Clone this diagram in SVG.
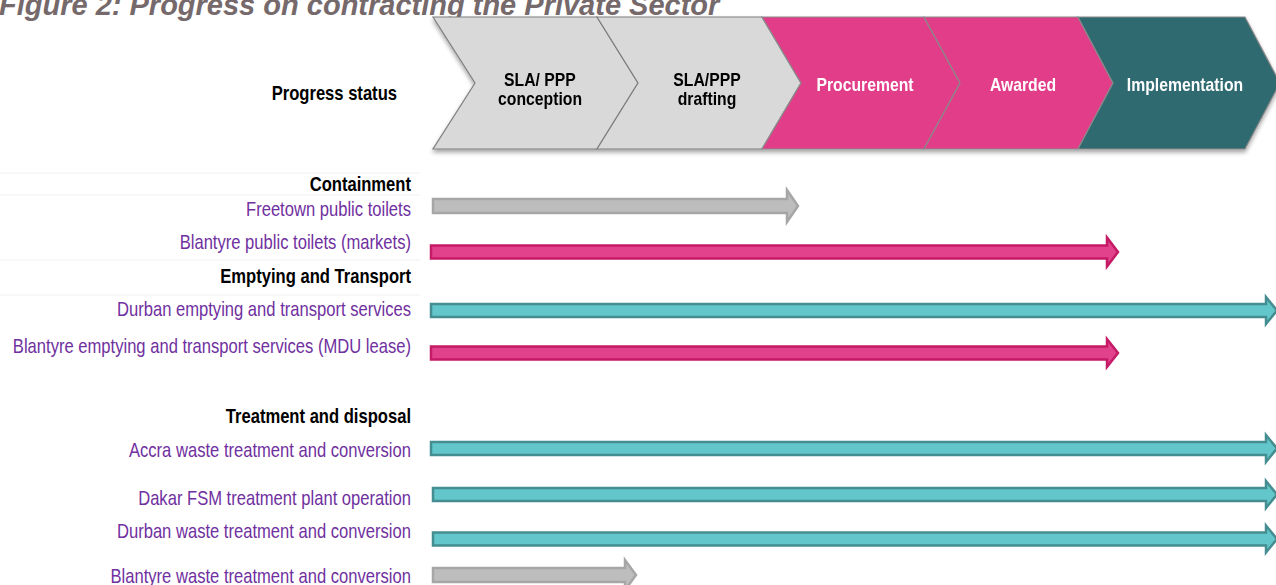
<svg xmlns="http://www.w3.org/2000/svg" width="1276" height="585" viewBox="0 0 1276 585">
  <style>
    .title { font-family: "Liberation Sans", Arial, sans-serif; font-weight: bold; font-style: italic; font-size: 29px; fill: #76696b; }
    .narrow { font-family: "Liberation Sans", Arial, sans-serif; }
    .head { font-weight: bold; font-size: 20px; fill: #000; text-anchor: end; }
    .item { font-size: 20px; fill: #7030a0; text-anchor: end; }
    .stage { font-weight: bold; font-size: 19px; text-anchor: middle; }
    .stage-dark { fill: #000; }
    .stage-light { fill: #fff; }
    .chev-grey { fill: #d9d9d9; stroke: #7f7f7f; stroke-width: 1.2; }
    .chev-pink { fill: #e23d89; stroke: #8a8a8a; stroke-width: 1.2; }
    .chev-teal { fill: #2e6a70; stroke: #8a8a8a; stroke-width: 1.2; }
    .arr-grey { fill: #bdbdbd; stroke: #a6a6a6; stroke-width: 2.5; stroke-linejoin: miter; }
    .arr-pink { fill: #e2428c; stroke: #c51a66; stroke-width: 2.5; stroke-linejoin: miter; }
    .arr-teal { fill: #62c6ca; stroke: #448d90; stroke-width: 2.5; stroke-linejoin: miter; }
    .rule { stroke: #f1f1f1; stroke-width: 1; }
  </style>
  <defs>
    <filter id="shadow" x="-5%" y="-10%" width="110%" height="130%">
      <feDropShadow dx="0" dy="3" stdDeviation="2" flood-color="#000" flood-opacity="0.35"/>
    </filter>
  </defs>

  <rect width="1276" height="585" fill="#fff"/>

  <text class="title" x="-1" y="15">Figure 2: Progress on contracting the Private Sector</text>

  <!-- faint table rules behind the row labels -->
  <g id="rules">
    <line class="rule" x1="0" y1="173" x2="420" y2="173"/>
    <line class="rule" x1="0" y1="195" x2="420" y2="195"/>
    <line class="rule" x1="0" y1="260" x2="420" y2="260"/>
    <line class="rule" x1="0" y1="295" x2="420" y2="295"/>
  </g>

  <!-- narrow type: each label is horizontally condensed about its anchor point -->
  <g id="progress-status">
    <text class="narrow head" transform="translate(397 100) scale(0.83 1)">Progress status</text>
  </g>

  <!-- stage chevrons -->
  <g id="stages" filter="url(#shadow)">
    <g id="stage-conception">
      <polygon class="chev-grey" points="433,17 597,17 638,83 597,149 433,149 475,83"/>
      <text class="narrow stage stage-dark" transform="translate(540 85.5) scale(0.83 1)">SLA/ PPP</text>
      <text class="narrow stage stage-dark" transform="translate(540 104.5) scale(0.83 1)">conception</text>
    </g>
    <g id="stage-drafting">
      <polygon class="chev-grey" points="597,17 762,17 801,83 762,149 597,149 638,83"/>
      <text class="narrow stage stage-dark" transform="translate(707 85.5) scale(0.83 1)">SLA/PPP</text>
      <text class="narrow stage stage-dark" transform="translate(707 104.5) scale(0.83 1)">drafting</text>
    </g>
    <g id="stage-procurement">
      <polygon class="chev-pink" points="762,17 924,17 960,83 924,149 762,149 801,83"/>
      <text class="narrow stage stage-light" transform="translate(865 91) scale(0.83 1)">Procurement</text>
    </g>
    <g id="stage-awarded">
      <polygon class="chev-pink" points="924,17 1078,17 1113,83 1078,149 924,149 960,83"/>
      <text class="narrow stage stage-light" transform="translate(1023 91) scale(0.83 1)">Awarded</text>
    </g>
    <g id="stage-implementation">
      <polygon class="chev-teal" points="1078,17 1245,17 1280,83 1245,149 1078,149 1113,83"/>
      <text class="narrow stage stage-light" transform="translate(1185 91) scale(0.83 1)">Implementation</text>
    </g>
  </g>

  <!-- row labels -->
  <g id="containment">
    <text class="narrow head" transform="translate(411 191) scale(0.83 1)">Containment</text>
    <text class="narrow item" transform="translate(411 216) scale(0.83 1)">Freetown public toilets</text>
    <text class="narrow item" transform="translate(411 249) scale(0.83 1)">Blantyre public toilets (markets)</text>
  </g>
  <g id="emptying-transport">
    <text class="narrow head" transform="translate(411 283) scale(0.83 1)">Emptying and Transport</text>
    <text class="narrow item" transform="translate(411 316) scale(0.83 1)">Durban emptying and transport services</text>
    <text class="narrow item" transform="translate(411 353) scale(0.83 1)">Blantyre emptying and transport services (MDU lease)</text>
  </g>
  <g id="treatment-disposal">
    <text class="narrow head" transform="translate(411 423) scale(0.83 1)">Treatment and disposal</text>
    <text class="narrow item" transform="translate(411 457) scale(0.83 1)">Accra waste treatment and conversion</text>
    <text class="narrow item" transform="translate(411 505) scale(0.83 1)">Dakar FSM treatment plant operation</text>
    <text class="narrow item" transform="translate(411 538) scale(0.83 1)">Durban waste treatment and conversion</text>
    <text class="narrow item" transform="translate(411 583) scale(0.83 1)">Blantyre waste treatment and conversion</text>
  </g>

  <!-- progress arrows: shaft from start to head base, head to tip -->
  <g id="connectors">
    <path class="arr-grey" d="M433,199 H787 V190 L798,206 L787,222 V213 H433 Z"/>
    <path class="arr-pink" d="M431,245.5 H1107 V237.5 L1118,252 L1107,266.5 V258.5 H431 Z"/>
    <path class="arr-teal" d="M431,304 H1266 V297 L1277,310.5 L1266,324 V317 H431 Z"/>
    <path class="arr-pink" d="M431,346.5 H1107 V339 L1118,353 L1107,367 V359.5 H431 Z"/>
    <path class="arr-teal" d="M431,442 H1266 V435 L1277,448.5 L1266,462 V455 H431 Z"/>
    <path class="arr-teal" d="M433,488 H1266 V481 L1277,494.5 L1266,508 V501 H433 Z"/>
    <path class="arr-teal" d="M433,532.5 H1266 V525.5 L1277,539 L1266,552.5 V545.5 H433 Z"/>
    <path class="arr-grey" d="M433,568 H625 V560 L636,575 L625,590 V582 H433 Z"/>
  </g>
</svg>
